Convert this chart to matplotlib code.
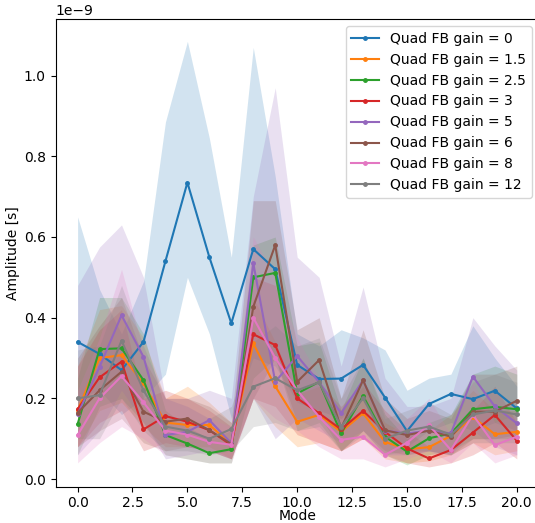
import numpy as np
import matplotlib
matplotlib.use("Agg")
import matplotlib.pyplot as plt

# mode index along the x axis
modes = list(range(21))
gains = ["0", "1.5", "2.5", "3", "5", "6", "8", "12"]

# amplitude per mode, in units of 1e-9 s (mean, lower and upper edge of band)
mean_g0 = [0.34, 0.31, 0.27, 0.34, 0.54, 0.735, 0.55, 0.386, 0.57, 0.52, 0.283, 0.248, 0.249, 0.283, 0.202, 0.119, 0.186, 0.211, 0.198, 0.219, 0.175]
lo_g0 = [0.20, 0.22, 0.16, 0.20, 0.26, 0.50, 0.36, 0.15, 0.30, 0.28, 0.19, 0.17, 0.15, 0.20, 0.12, 0.08, 0.12, 0.14, 0.12, 0.14, 0.12]
hi_g0 = [0.65, 0.47, 0.36, 0.49, 0.885, 1.085, 0.845, 0.55, 1.07, 0.75, 0.36, 0.33, 0.37, 0.35, 0.32, 0.22, 0.25, 0.26, 0.38, 0.30, 0.23]

mean_g15 = [0.17, 0.30, 0.307, 0.237, 0.14, 0.134, 0.134, 0.087, 0.336, 0.23, 0.142, 0.159, 0.117, 0.163, 0.092, 0.074, 0.079, 0.107, 0.154, 0.111, 0.117]
lo_g15 = [0.08, 0.17, 0.19, 0.13, 0.08, 0.08, 0.08, 0.05, 0.20, 0.13, 0.08, 0.09, 0.07, 0.10, 0.05, 0.04, 0.045, 0.06, 0.09, 0.06, 0.07]
hi_g15 = [0.28, 0.42, 0.43, 0.35, 0.20, 0.23, 0.19, 0.14, 0.45, 0.34, 0.21, 0.23, 0.17, 0.23, 0.14, 0.11, 0.12, 0.16, 0.22, 0.17, 0.17]

mean_g25 = [0.136, 0.322, 0.324, 0.245, 0.109, 0.088, 0.064, 0.074, 0.50, 0.511, 0.212, 0.241, 0.113, 0.206, 0.105, 0.068, 0.101, 0.113, 0.173, 0.179, 0.173]
lo_g25 = [0.06, 0.18, 0.20, 0.14, 0.06, 0.05, 0.04, 0.04, 0.25, 0.30, 0.12, 0.14, 0.07, 0.12, 0.06, 0.035, 0.06, 0.07, 0.10, 0.10, 0.10]
hi_g25 = [0.25, 0.45, 0.45, 0.36, 0.17, 0.13, 0.10, 0.12, 0.58, 0.60, 0.33, 0.34, 0.17, 0.30, 0.16, 0.10, 0.14, 0.16, 0.26, 0.28, 0.26]

mean_g3 = [0.173, 0.252, 0.291, 0.123, 0.156, 0.142, 0.121, 0.084, 0.359, 0.332, 0.20, 0.163, 0.123, 0.169, 0.117, 0.076, 0.051, 0.072, 0.115, 0.159, 0.095]
lo_g3 = [0.08, 0.14, 0.17, 0.07, 0.09, 0.08, 0.07, 0.05, 0.20, 0.18, 0.11, 0.09, 0.07, 0.10, 0.06, 0.04, 0.03, 0.04, 0.06, 0.09, 0.05]
hi_g3 = [0.28, 0.37, 0.42, 0.20, 0.22, 0.20, 0.17, 0.13, 0.50, 0.48, 0.29, 0.24, 0.18, 0.24, 0.17, 0.12, 0.08, 0.11, 0.17, 0.23, 0.14]

mean_g5 = [0.16, 0.278, 0.406, 0.303, 0.109, 0.117, 0.146, 0.089, 0.535, 0.241, 0.305, 0.24, 0.163, 0.245, 0.12, 0.113, 0.12, 0.113, 0.254, 0.18, 0.138]
lo_g5 = [0.06, 0.12, 0.22, 0.14, 0.05, 0.06, 0.07, 0.05, 0.20, 0.10, 0.15, 0.12, 0.09, 0.12, 0.06, 0.06, 0.07, 0.06, 0.12, 0.08, 0.06]
hi_g5 = [0.48, 0.575, 0.63, 0.50, 0.20, 0.20, 0.22, 0.20, 0.70, 0.97, 0.55, 0.50, 0.28, 0.476, 0.25, 0.18, 0.18, 0.20, 0.40, 0.33, 0.27]

mean_g6 = [0.164, 0.22, 0.266, 0.167, 0.142, 0.15, 0.121, 0.087, 0.427, 0.58, 0.241, 0.295, 0.126, 0.245, 0.121, 0.109, 0.12, 0.105, 0.167, 0.167, 0.194]
lo_g6 = [0.08, 0.12, 0.15, 0.09, 0.07, 0.08, 0.07, 0.05, 0.20, 0.30, 0.14, 0.16, 0.07, 0.12, 0.07, 0.06, 0.07, 0.06, 0.10, 0.10, 0.11]
hi_g6 = [0.30, 0.38, 0.45, 0.30, 0.20, 0.20, 0.18, 0.14, 0.69, 0.69, 0.37, 0.40, 0.20, 0.37, 0.20, 0.15, 0.17, 0.15, 0.26, 0.26, 0.28]

mean_g8 = [0.109, 0.20, 0.255, 0.19, 0.12, 0.11, 0.092, 0.085, 0.40, 0.30, 0.22, 0.154, 0.097, 0.105, 0.06, 0.09, 0.134, 0.072, 0.159, 0.084, 0.105]
lo_g8 = [0.04, 0.09, 0.13, 0.10, 0.06, 0.05, 0.04, 0.04, 0.20, 0.15, 0.12, 0.08, 0.05, 0.05, 0.03, 0.05, 0.07, 0.04, 0.09, 0.04, 0.06]
hi_g8 = [0.22, 0.35, 0.52, 0.32, 0.20, 0.18, 0.15, 0.13, 0.60, 0.50, 0.35, 0.25, 0.16, 0.17, 0.11, 0.15, 0.20, 0.11, 0.24, 0.14, 0.16]

mean_g12 = [0.20, 0.208, 0.343, 0.22, 0.13, 0.12, 0.10, 0.124, 0.229, 0.25, 0.22, 0.24, 0.13, 0.20, 0.10, 0.12, 0.13, 0.11, 0.16, 0.17, 0.16]
lo_g12 = [0.10, 0.10, 0.20, 0.12, 0.07, 0.07, 0.06, 0.07, 0.13, 0.14, 0.12, 0.13, 0.07, 0.11, 0.06, 0.07, 0.07, 0.06, 0.09, 0.09, 0.09]
hi_g12 = [0.32, 0.33, 0.48, 0.33, 0.20, 0.18, 0.15, 0.18, 0.34, 0.38, 0.33, 0.35, 0.20, 0.30, 0.15, 0.17, 0.19, 0.16, 0.24, 0.26, 0.24]

means = [mean_g0, mean_g15, mean_g25, mean_g3, mean_g5, mean_g6, mean_g8, mean_g12]
lows = [lo_g0, lo_g15, lo_g25, lo_g3, lo_g5, lo_g6, lo_g8, lo_g12]
highs = [hi_g0, hi_g15, hi_g25, hi_g3, hi_g5, hi_g6, hi_g8, hi_g12]

plt.rcParams['font.size'] = 10
fig = plt.figure(figsize=(5.35, 5.23), dpi=100)
ax = fig.add_axes([0.104, 0.0694, 0.903, 0.894])

ns = 1e-9
for i, g in enumerate(gains):
    c = f"C{i}"
    m = np.array(means[i]) * ns
    ax.fill_between(modes, np.array(lows[i]) * ns, np.array(highs[i]) * ns, color=c, alpha=0.2, linewidth=0)
    ax.plot(modes, m, color=c, marker='.', markersize=5, linewidth=1.5, label=f"Quad FB gain = {g}")

ax.set_xlim(-1, 21)
ax.set_ylim(-0.019e-9, 1.14e-9)
ax.set_xlabel("Mode", labelpad=-1)
ax.set_ylabel("Amplitude [s]", labelpad=3)
ax.legend(loc='upper right')

fig.savefig("out.png", dpi=100)
